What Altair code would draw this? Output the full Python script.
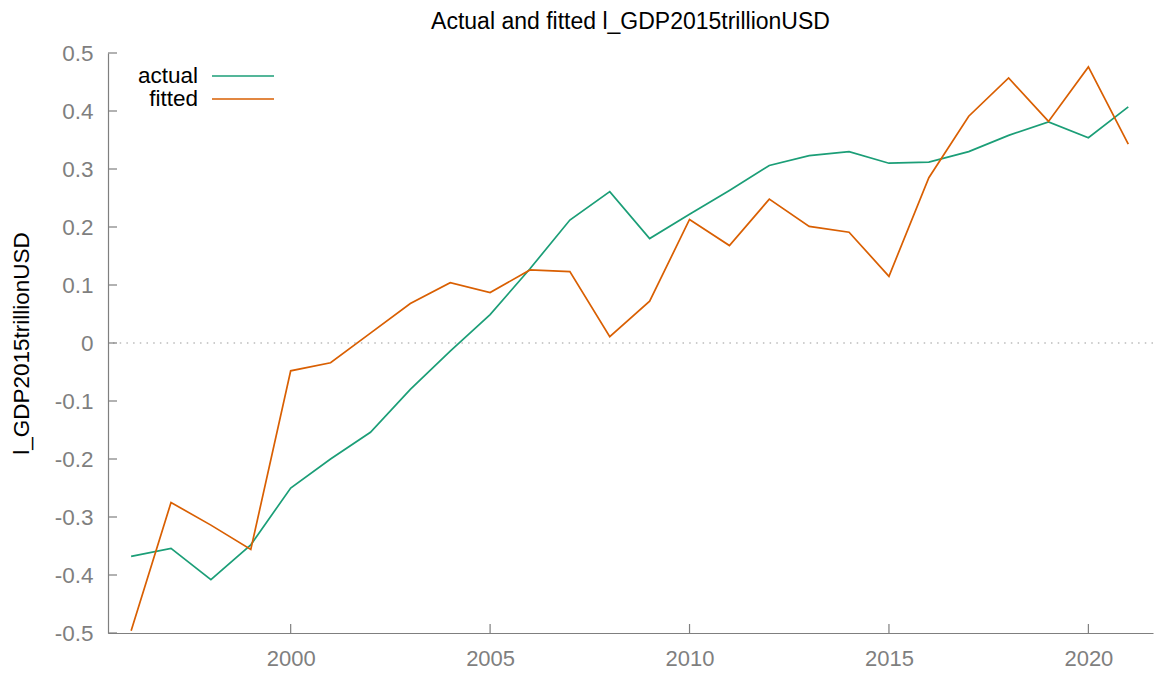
import altair as alt
import pandas as pd

years = list(range(1996, 2022))
actual = [-0.368, -0.354, -0.408, -0.348, -0.250, -0.200, -0.154, -0.080, -0.014, 0.049,
          0.128, 0.212, 0.261, 0.180, 0.222, 0.263, 0.306, 0.323, 0.330, 0.310,
          0.312, 0.330, 0.358, 0.381, 0.354, 0.407]
fitted = [-0.496, -0.275, -0.314, -0.356, -0.048, -0.034, 0.017, 0.068, 0.104, 0.087,
          0.126, 0.123, 0.011, 0.072, 0.213, 0.168, 0.248, 0.201, 0.191, 0.115,
          0.285, 0.391, 0.457, 0.382, 0.476, 0.343]
series_names = ["actual", "fitted"]
series_colors = ["#1b9e77", "#d95f02"]
x_ticks = [2000, 2005, 2010, 2015, 2020]
y_ticks = [-0.5, -0.4, -0.3, -0.2, -0.1, 0.0, 0.1, 0.2, 0.3, 0.4, 0.5]
title_text = "Actual and fitted l_GDP2015trillionUSD"
y_title = "l_GDP2015trillionUSD"

FONT = "Liberation Sans"
GRAY = "#7f7f7f"

df = pd.DataFrame({
    "year": years * 2,
    "value": actual + fitted,
    "series": [series_names[0]] * len(years) + [series_names[1]] * len(years),
})

xscale = alt.Scale(domain=[1995.42, 2021.62], nice=False, zero=False)
yscale = alt.Scale(domain=[-0.5, 0.5], nice=False, zero=False)

xaxis = alt.Axis(values=x_ticks, format="d", ticks=False, tickSize=0,
                 grid=False, domainColor=GRAY, domainWidth=1.2,
                 labelColor=GRAY, labelFontSize=22, labelFont=FONT,
                 labelPadding=15, labelFlush=False)
yaxis = alt.Axis(values=y_ticks, ticks=False, tickSize=0, grid=False,
                 labelExpr="toString(round(datum.value*10)/10)",
                 domainColor=GRAY, domainWidth=1.2,
                 labelColor=GRAY, labelFontSize=22.5, labelFont=FONT,
                 labelPadding=15, labelFlush=False,
                 titleFont=FONT, titleFontSize=22.5, titleFontWeight="normal",
                 titleColor="black", titleX=-87, titleY=290,
                 titleAngle=270, titleAlign="center", titleBaseline="middle")


def X(field):
    return alt.X(field, scale=xscale, axis=xaxis, title=None)


def Y(field):
    return alt.Y(field, scale=yscale, axis=yaxis, title=y_title)


lines = alt.Chart(df).mark_line(strokeWidth=1.7).encode(
    x=X("year:Q"),
    y=Y("value:Q"),
    color=alt.Color("series:N", scale=alt.Scale(domain=series_names, range=series_colors),
                    legend=None),
)

zero = alt.Chart(pd.DataFrame({"v": [0.0]})).mark_rule(
    color="#999999", strokeWidth=1.2, strokeDash=[1.5, 5.2]
).encode(y=Y("v:Q"))

yt = alt.Chart(pd.DataFrame({"v": y_ticks})).mark_rule(color=GRAY, strokeWidth=1.2).encode(
    y=Y("v:Q"),
    x=alt.value(0), x2=alt.value(9),
)
xt = alt.Chart(pd.DataFrame({"v": x_ticks})).mark_rule(color=GRAY, strokeWidth=1.2).encode(
    x=X("v:Q"),
    y=alt.value(580), y2=alt.value(571),
)

legend_layers = []
for i, (name, col) in enumerate(zip(series_names, series_colors)):
    d = alt.Data(values=[{"label": name}])
    legend_layers.append(
        alt.Chart(d).mark_text(align="right", baseline="middle", font=FONT,
                               fontSize=22.5, color="black").encode(
            text="label:N", x=alt.value(90), y=alt.value(23 + 23 * i))
    )
    legend_layers.append(
        alt.Chart(d).mark_rule(color=col, strokeWidth=1.7).encode(
            x=alt.value(104), x2=alt.value(166), y=alt.value(23 + 23 * i))
    )

chart = alt.layer(lines, zero, yt, xt, *legend_layers).properties(
    width=1045, height=580,
    title=alt.TitleParams(title_text, font=FONT, fontSize=23, fontWeight="normal",
                          color="black", anchor="middle", offset=-15,
                          baseline="bottom"),
    autosize=alt.AutoSizeParams(type="none"),
    padding={"left": 100, "top": 45, "right": 8, "bottom": 40},
    background="white",
).configure_view(stroke=None)

chart.save("out.html", embed_options={"renderer": "svg", "actions": False})
